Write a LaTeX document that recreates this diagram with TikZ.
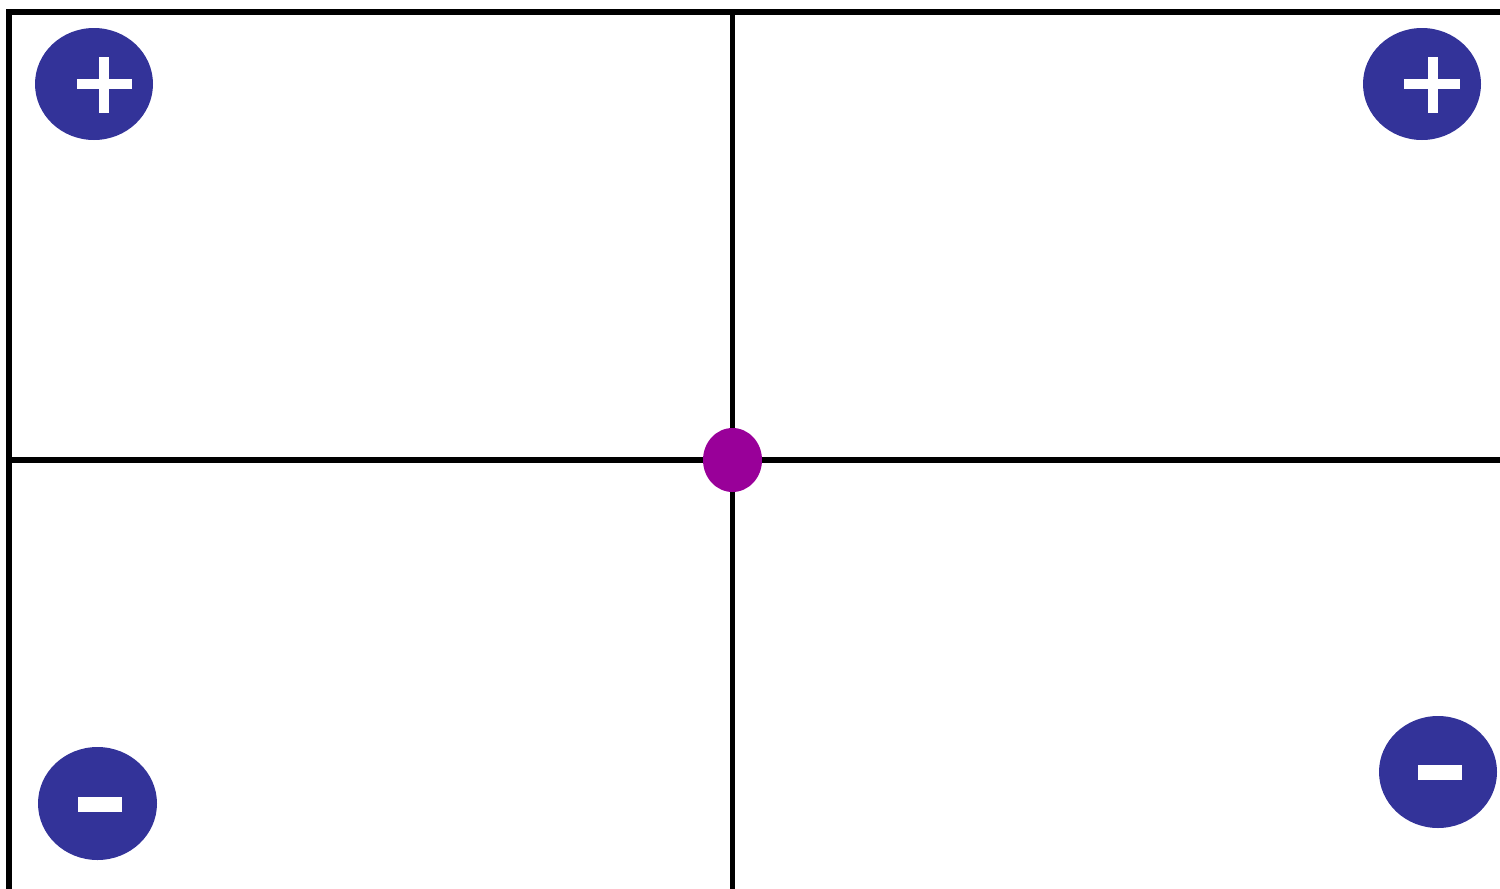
\documentclass[tikz,border=0pt]{standalone}
\usetikzlibrary{shapes.geometric}
\definecolor{signblue}{HTML}{333399}
\definecolor{dotpurple}{HTML}{990099}
\begin{document}
\begin{tikzpicture}[x=1pt,y=-1pt,
  axis/.style={line width=5.5pt,black,line cap=butt},
  signdisc/.style={ellipse,fill=signblue,draw=none,minimum width=118pt,minimum height=112pt,inner sep=0pt},
  signbar/.style={fill=white,draw=none}]
\useasboundingbox (0,0) rectangle (1500,889);
% frame and axes
\draw[axis] (6,12) -- (1500,12);
\draw[axis] (9,9) -- (9,889);
\draw[axis] (732.5,12) -- (732.5,889);
\draw[axis] (9,460) -- (1500,460);
% origin dot
\node[ellipse,fill=dotpurple,minimum width=59pt,minimum height=64pt,inner sep=0pt] (origin) at (732.5,460) {};
% plus discs
\node[signdisc] (tl) at (94,84) {};
\fill[signbar] (77,79) rectangle (132,89);
\fill[signbar] (99,57) rectangle (109,113);
\node[signdisc] (tr) at (1422,84) {};
\fill[signbar] (1404,79) rectangle (1460,89);
\fill[signbar] (1428,57) rectangle (1438,113);
% minus discs
\node[signdisc,minimum width=119pt,minimum height=113pt] (bl) at (97.5,803.5) {};
\fill[signbar] (78,797) rectangle (122,812);
\node[signdisc] (br) at (1438,772) {};
\fill[signbar] (1418,765) rectangle (1462,780);
\end{tikzpicture}
\end{document}
